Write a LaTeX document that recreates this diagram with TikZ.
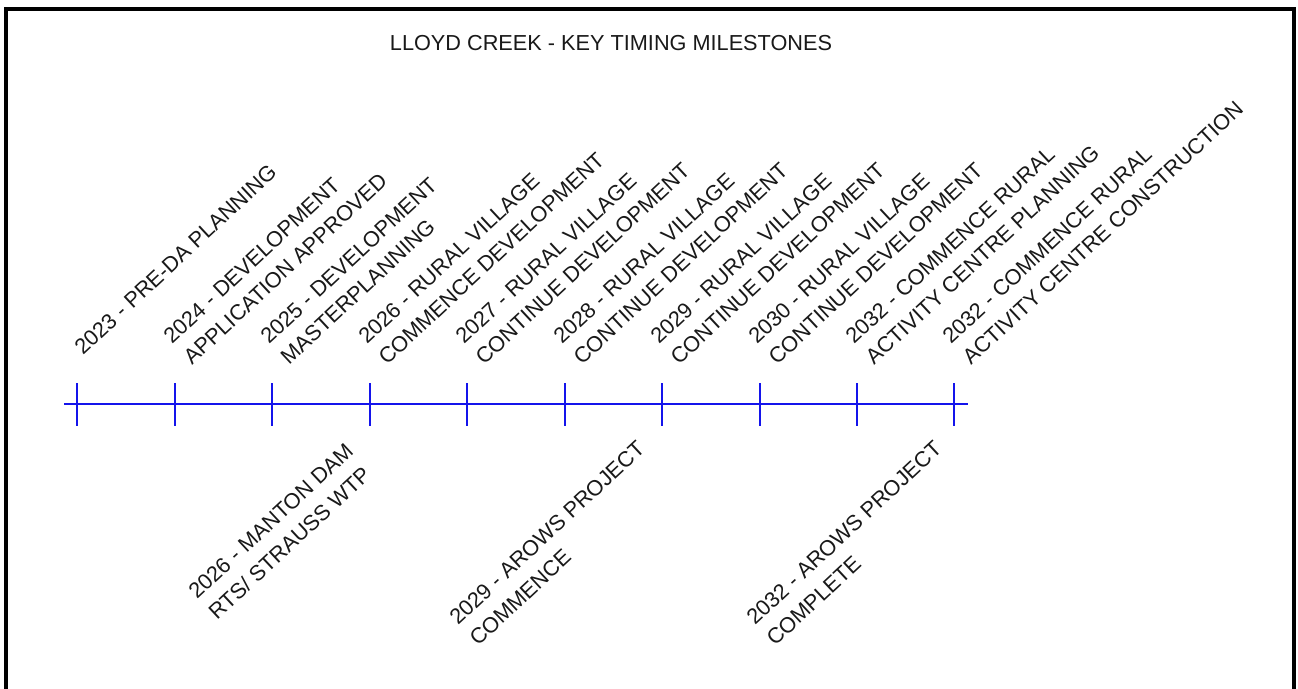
\documentclass[tikz,border=0pt]{standalone}
\usepackage{fontspec}
\setmainfont{Liberation Sans}
\newcommand\lblfont{\fontsize{21.7}{26}\selectfont}
\newcommand\ttlfont{\fontsize{21.7}{26}\selectfont}
\definecolor{tlblue}{RGB}{20,20,235}
\definecolor{txt}{RGB}{25,25,25}
\begin{document}
\begin{tikzpicture}[x=1pt,y=-1pt,
  lbl/.style={font=\lblfont, text=txt, rotate=43, anchor=base west, inner sep=0pt},
  titlestyle/.style={font=\ttlfont, text=txt, anchor=base, inner sep=0pt},
  frameline/.style={line width=4pt, black},
  axisline/.style={line width=2pt, tlblue},
  tickline/.style={line width=2.6pt, tlblue}]
\useasboundingbox (0,0) rectangle (1298,688);
\fill[white] (0,0) rectangle (1298,688);
\begin{scope}
\clip (0,0) rectangle (1298,688);
\draw[frameline, line join=miter] (6,690) -- (6,8.7) -- (1293.5,8.7) -- (1293.5,690);
\end{scope}

\node[titlestyle] (title) at (611,50) {LLOYD CREEK - KEY TIMING MILESTONES};

% timeline
\coordinate (ls) at (64,404);
\coordinate (le) at (968,404);
\draw[axisline] (ls) -- (le);
\foreach \x/\n in {77/t1,175/t2,272/t3,370/t4,467/t5,565/t6,662/t7,760/t8,857/t9,954/t10}{
  \coordinate (\n) at (\x,404);
  \draw[tickline] (\x,383) -- (\x,426);
}

% labels above
\node[lbl] (a1) at (83,356) {2023 - PRE-DA PLANNING};
\node[lbl] (a2a) at (172,345) {2024 - DEVELOPMENT};
\node[lbl] (a2b) at (192,366) {APPLICATION APPROVED};
\node[lbl] (a3a) at (269,345) {2025 - DEVELOPMENT};
\node[lbl] (a3b) at (289,366) {MASTERPLANNING};
\node[lbl] (a4a) at (367,345) {2026 - RURAL VILLAGE};
\node[lbl] (a4b) at (387,366) {COMMENCE DEVELOPMENT};
\node[lbl] (a5a) at (464,345) {2027 - RURAL VILLAGE};
\node[lbl] (a5b) at (484,366) {CONTINUE DEVELOPMENT};
\node[lbl] (a6a) at (562,345) {2028 - RURAL VILLAGE};
\node[lbl] (a6b) at (582,366) {CONTINUE DEVELOPMENT};
\node[lbl] (a7a) at (659,345) {2029 - RURAL VILLAGE};
\node[lbl] (a7b) at (679,366) {CONTINUE DEVELOPMENT};
\node[lbl] (a8a) at (757,345) {2030 - RURAL VILLAGE};
\node[lbl] (a8b) at (777,366) {CONTINUE DEVELOPMENT};
\node[lbl] (a9a) at (854,345) {2032 - COMMENCE RURAL};
\node[lbl] (a9b) at (874,366) {ACTIVITY CENTRE PLANNING};
\node[lbl] (a10a) at (951,345) {2032 - COMMENCE RURAL};
\node[lbl] (a10b) at (971,366) {ACTIVITY CENTRE CONSTRUCTION};

% labels below
\node[lbl] (b1a) at (197,600) {2026 - MANTON DAM};
\node[lbl] (b1b) at (217,621) {RTS/ STRAUSS WTP};
\node[lbl] (b2a) at (458,626) {2029 - AROWS PROJECT};
\node[lbl] (b2b) at (478,647) {COMMENCE};
\node[lbl] (b3a) at (755,626) {2032 - AROWS PROJECT};
\node[lbl] (b3b) at (775,647) {COMPLETE};
\end{tikzpicture}
\end{document}
